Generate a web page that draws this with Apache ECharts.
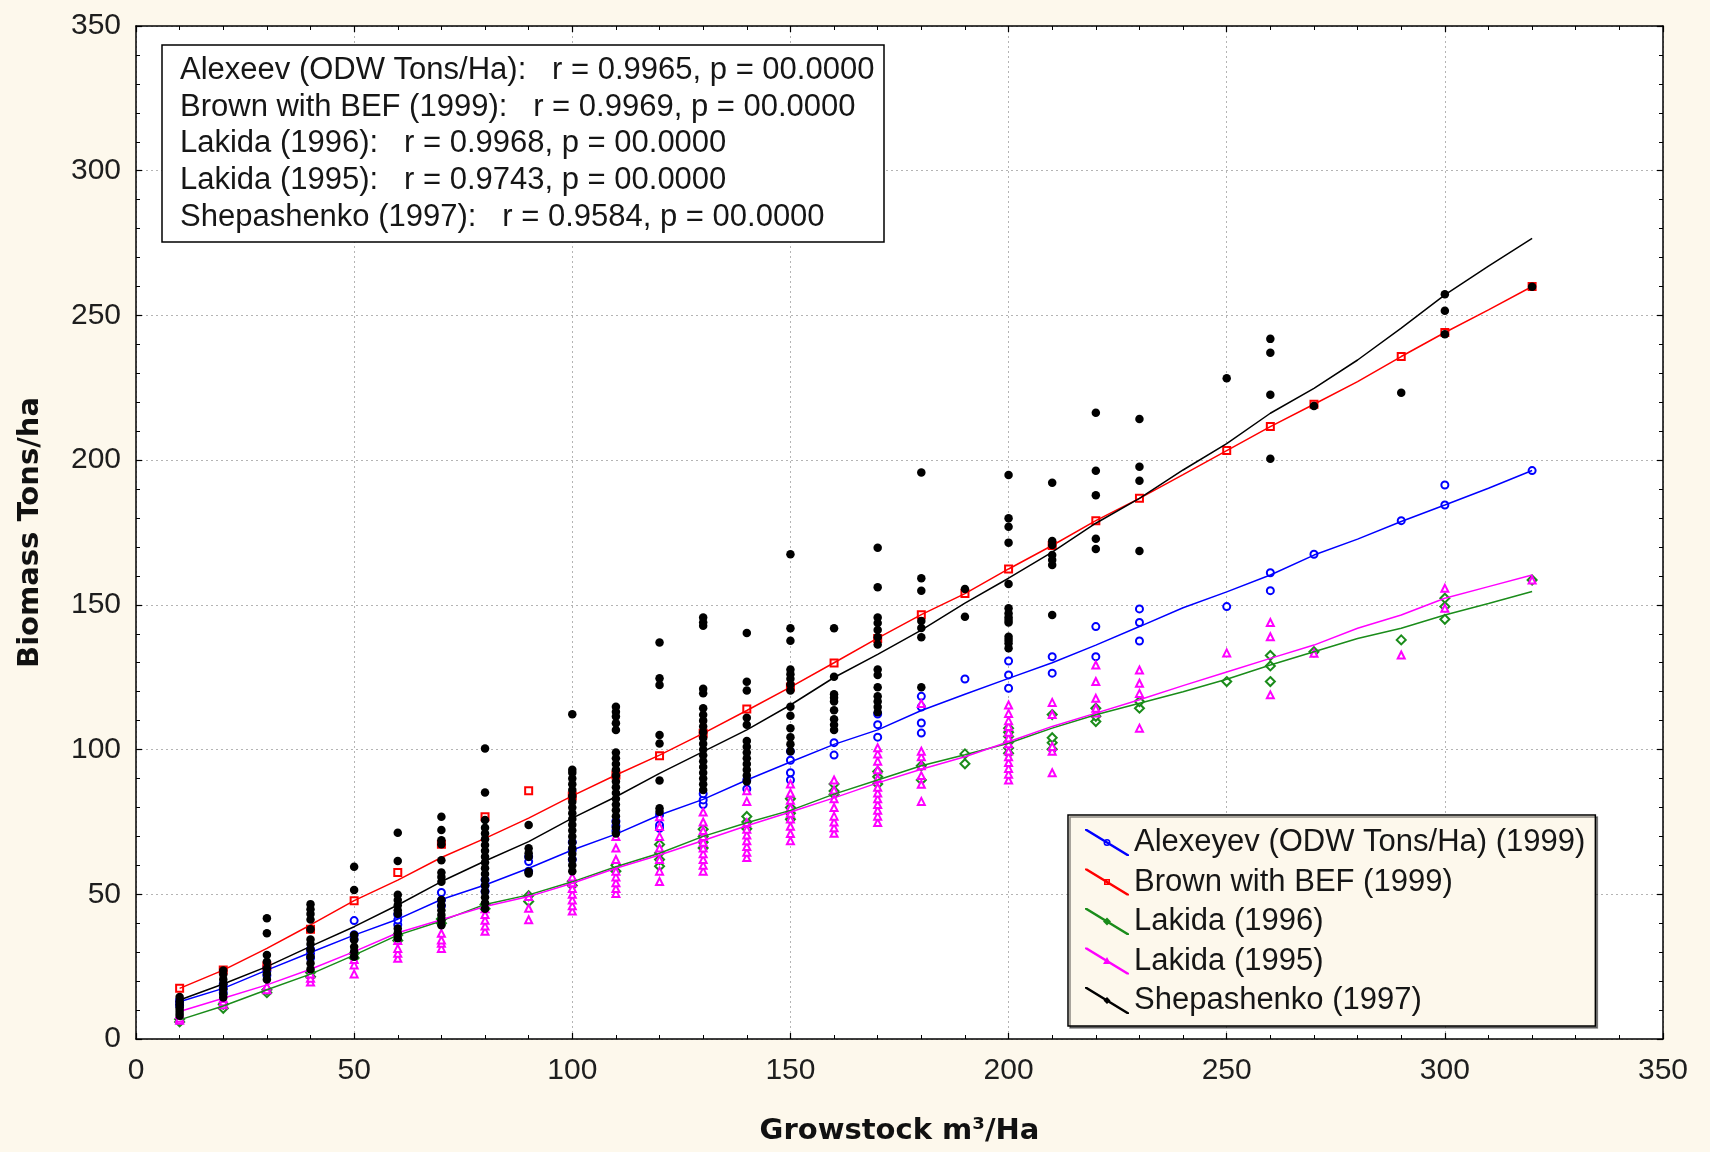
<!DOCTYPE html>
<html>
<head>
<meta charset="utf-8">
<script src="https://cdn.jsdelivr.net/npm/echarts@6.0.0/dist/echarts.min.js"></script>
<style>
  html, body { margin: 0; padding: 0; background: #fdf8ec; }
  #chart { width: 1710px; height: 1152px; }
</style>
</head>
<body>
<div id="chart"></div>
<script>
// ---------------- data ----------------
const xs = [10,20,30,40,50,60,70,80,90,100,110,120,130,140,150,160,170,180,190,200,210,220,230,240,250,260,270,280,290,300,310,320];

const seriesNames = ['Alexeyev (ODW Tons/Ha) (1999)', 'Brown with BEF (1999)', 'Lakida (1996)', 'Lakida (1995)', 'Shepashenko (1997)'];

const statLines = [
  'Alexeev (ODW Tons/Ha):   r = 0.9965, p = 00.0000',
  'Brown with BEF (1999):   r = 0.9969, p = 00.0000',
  'Lakida (1996):   r = 0.9968, p = 00.0000',
  'Lakida (1995):   r = 0.9743, p = 00.0000',
  'Shepashenko (1997):   r = 0.9584, p = 00.0000'
];

// fitted curves (one value per xs entry)
const alexFit = [12.9,17.5,23.8,29.9,35.9,41.4,48.2,53.2,59,65.3,70.8,77.4,82.8,89.5,95.7,101.8,106.8,113.5,119.1,124.6,130,136.1,142.5,149,154.5,160.3,167.2,172.7,178.8,184.5,190.3,196.4];
const brownFit = [17.5,23.8,31.3,39.4,47.8,54.9,62.7,69.3,76.3,84,91.2,98.1,105.6,113.5,121.6,130,138.5,146.6,153.9,162.4,170.5,179.1,186.8,195,203.3,211.6,219.3,227.1,235.8,244.1,251.9,260];
const lak96Fit = [6.6,11.4,17,22.4,29,35.9,40.8,46.5,49.8,54.3,59.5,64.2,70,74.7,79,84.6,89.5,94.4,98.2,102.2,107.4,112,116,120,124.3,129.2,133.8,138.4,141.9,146.5,150.5,154.6];
const lak95Fit = [9.5,14.1,18.7,24.1,30.2,36.7,41.2,45.8,49.2,53.8,59,63.6,68.6,73.7,78.4,83.3,88.5,93.2,97.5,102.7,108,112.6,117.2,122.1,126.8,131.5,136.1,141.9,146.5,152.3,156.3,160.3];
const shepFit = [13.5,19,25,32,38.8,46.3,54.4,61.5,68.2,76.3,83.7,91.8,99.3,106.8,115.4,124.9,132.9,141.3,150.6,159.2,168.2,178.2,186.8,196.6,205.7,216.2,224.8,234.6,245.6,257.1,267,276.6];

// observed points: each row = [growstock, biomass values...]
const alexPts = [
  [10,11.5,12.5,13.5],[20,16,17.5,19],[30,22,23.5,25],[40,28,29.5,31],[50,34.5,36,40.9],
  [60,39.5,41.1,43],[70,46,48,50.6],[80,51,53,55],[90,58,61.3,63],[100,62,65.3,68],
  [110,71.9,73.6,75.3],[120,72.8,73.9,77.4],[130,81,82.6,84.7],[140,86.4,89.5],
  [150,89.5,92,96.3,99.4],[160,98.1,102.4],[170,104.3,108.6,112.3],[180,105.7,109.2,114.7,118.4],
  [190,124.4],[200,121.2,125.8,130.6],[210,126.4,132.1],[220,132.1,142.5],[230,137.5,143.9,148.6],
  [250,149.4],[260,154.9,161.1],[270,167.5],[290,179.1],[300,184.5,191.4],[320,196.4]
];
const brownPts = [
  [10,17.5],[20,23.8],[30,25.2],[40,37.9],[50,47.8],[60,57.5],[70,67.3],[80,76.8],[90,85.8],
  [100,84],[110,91.2],[120,97.9],[130,105.6],[140,114],[150,121.6],[160,129.9],[170,138.4],
  [180,146.6],[190,153.9],[200,162.4],[210,170.5],[220,179.1],[230,186.8],[250,203.3],
  [260,211.6],[270,219.3],[290,235.8],[300,244.1],[320,260]
];
const lak96Pts = [
  [10,5.9,6.8],[20,10.6,12],[30,16,17],[40,21.5,23],[50,28,29.5],[60,34,35.9],[70,40,41.5],
  [80,45,46.5],[90,47.5,49.5],[100,53,54.5],[110,58,60],[120,59.7,62,64.3,67.2],
  [130,66,68,70,72.5],[140,72.6,75,76.9],[150,75.9,78,80,83],[160,84.5,85.7,88.1],
  [170,88.1,90.6,92.4],[180,89.5,94.4],[190,95.1,98.5],[200,98.7,100.5,102.5,104.5,106,107.4],
  [210,100.1,102.4,104.1,112.1],[220,109.7,111.5,114.3],[230,114.3,116.6],[250,123.5],
  [260,123.5,128.9,132.5],[270,133.8],[290,137.9],[300,145,149.4,152.3],[320,158.6]
];
const lak95Pts = [
  [10,6.5,7.2,8.5],[20,11.8,12.9,14],[30,17,18.2],[40,19.7,21,22.5],[50,22.5,25.6,27.5],
  [60,27.9,29.6,31.3,34],[70,31.3,33.1,34.2,36.5],[80,37.2,39,41,43,45],[90,41.2,45.2,49.2],
  [100,44.2,46,48,50,52,54,56],[110,50.3,52,54,56,58,62,66,70],[120,54.4,58,62,66,70,73.4,76.8],
  [130,58,60,62,64,66,68,70,72,75,78.4],[140,62.7,64.5,66.5,68.5,70.5,72.5,74.7,82.1,85.8],
  [150,68.5,71,73.5,76,78,80,82.5,85,88.1],[160,71.1,73,75,77,80,83,86,89.5],
  [170,74.8,77,79,81,83,85,87,90,93,96,98.5,100.6],[180,82.1,88,91,94.4,97.5,99.4,115.9],
  [200,89.5,91.5,93.5,95.5,97.5,99.5,102,104,106,108,110,112.5,115.4],
  [210,92,99.4,101.1,112.1,116.3],[220,112.6,114.3,117.7,123.5,129.2],[230,107.4,119.4,122.9,127.5],
  [250,133.4],[260,118.9,139,143.9],[270,133.3],[290,132.7],[300,148.8,155.7],[320,158.6]
];
const shepPts = [
  [10,8,9,10,11,12,13,14.5],
  [20,14.3,15.5,17.2,18.9,20.6,22.3,23.7],
  [30,20.6,22.5,24.4,26.7,29,36.5,41.7],
  [40,24.1,26.2,28.4,30.8,32.8,34.4,37.9,41.3,43.2,44.8,46.6],
  [50,28.4,30.2,31.9,34.2,35.9,51.5,59.5],
  [60,34.8,36.5,38.2,43.3,44.5,46.2,48,49.8,61.5,71.3],
  [70,39.3,41,42.8,44.5,46.2,48,54.3,56,57.5,61.8,67.3,68.7,72.2,76.8],
  [80,45,47,49,51,53,55,57,59,61,63,65,67,69,71,73,75.7,85.2,100.4],
  [90,57.2,57.8,63,64.2,65.9,73.9],
  [100,58,60,62,64,66,68,70,72,74,76,78,80,82,84,86,88,90,92,93,112.2],
  [110,71,73,75,77,79,81,83,85,87,89,91,93,95,97,99,106.8,109.1,111.4,113.1,114.8],
  [120,78.5,79.7,89.3,102.1,105,122.3,124.6,137],
  [130,86,88,90,92,94,96,98,100,102,104,106,108,110,112,114.3,119.5,121,142.8,144,145.6],
  [140,89,91,93,95,97,99,101,103,108.6,111,120.4,123.4,140.3],
  [150,99.4,101.8,104.3,107.4,111.7,114.8,120.4,122.5,124.5,126,127.7,137.6,141.9,167.5],
  [160,106.8,108.6,110.5,113.6,116.6,117.9,119.1,125.2,141.9],
  [170,112.9,114.7,116.6,118.4,121.5,125.8,127.7,136.3,138.8,141.3,143.7,145.6,156.1,169.7],
  [180,121.5,138.8,142,144.4,154.9,159.2,195.7],
  [190,145.9,155.5],
  [200,135,136.7,137.9,139,143.9,144.8,145.7,147.1,148.8,157.2,171.5,177,179.9,194.9],
  [210,146.5,163.8,165.5,167.2,170.7,172.1,192.2],
  [220,169.3,172.8,187.9,196.3,216.4],
  [230,168.6,192.9,197.7,214.2],
  [250,228.3],
  [260,200.5,222.6,237.1,241.9],
  [270,218.7],
  [290,223.3],
  [300,243.5,251.6,257.3],
  [320,259.9]
];

// ---------------- helpers ----------------
function flat(rows) {
  const out = [];
  rows.forEach(r => { for (let i = 1; i < r.length; i++) out.push([r[0], r[i]]); });
  return out;
}
function fit(vals) { return xs.map((x, i) => [x, vals[i]]); }

const colors = ['#0000ff', '#ff0000', '#1a8c1a', '#ff00ff', '#000000'];
const fits = [alexFit, brownFit, lak96Fit, lak95Fit, shepFit];
const pts = [alexPts, brownPts, lak96Pts, lak95Pts, shepPts];
const symbols = ['emptyCircle', 'emptyRect', 'emptyDiamond', 'emptyTriangle', 'circle'];
const symbolSizes = [7, 7, 9, 7, 8.5];

const band = 'M0,0 L2.2,0 L44,25.6 L44,27 L41.8,27 L0,1.4 Z ';
const legendIcons = [
  'path://' + band + 'M18.5,13.5 A3.5,3.5 0 1,1 25.5,13.5 A3.5,3.5 0 1,1 18.5,13.5 Z M20,13.5 A2,2 0 1,0 24,13.5 A2,2 0 1,0 20,13.5 Z',
  'path://' + band + 'M19,10.5 L25,10.5 L25,16.5 L19,16.5 Z M20.5,12 L20.5,15 L23.5,15 L23.5,12 Z',
  'path://' + band + 'M22,9.5 L26,13.5 L22,17.5 L18,13.5 Z',
  'path://' + band + 'M22,9.5 L26,16.5 L18,16.5 Z',
  'path://' + band + 'M22,10 L25.5,13.5 L22,17 L18.5,13.5 Z'
];

const series = [];
for (let i = 0; i < 5; i++) {
  series.push({
    type: 'line', name: 'fit-' + i, data: fit(fits[i]),
    symbol: 'none', showSymbol: false, silent: true,
    lineStyle: { color: colors[i], width: 1.5 },
    z: 3
  });
}
for (let i = 0; i < 5; i++) {
  series.push({
    type: 'scatter', name: seriesNames[i], data: flat(pts[i]),
    symbol: symbols[i], symbolSize: symbolSizes[i], silent: true,
    itemStyle: i === 4 ? { color: '#000', opacity: 1 } : { color: colors[i], borderWidth: 1.2, opacity: 1 },
    z: i === 4 ? 4 : 2
  });
}

const tickFont = { fontFamily: 'Liberation Sans, Arial, sans-serif', fontSize: 30, color: '#1e1e1e' };
const nameFont = { fontFamily: 'DejaVu Sans, sans-serif', fontSize: 29, fontWeight: 'bold', color: '#111' };

function valAxis(extra) {
  return Object.assign({
    type: 'value', min: 0, max: 350, interval: 50,
    axisLine: { show: true, onZero: false, lineStyle: { color: '#000', width: 1.5 } },
    axisTick: { show: true, inside: true, length: 6, lineStyle: { color: '#000', width: 1.2 } },
    minorTick: { show: true, splitNumber: 5, length: 4, lineStyle: { color: '#000', width: 1 } },
    splitLine: { show: false },
    minorSplitLine: { show: false }
  }, extra);
}

const option = {
  backgroundColor: '#fdf8ec',
  animation: false,
  title: {
    text: statLines.join('\n'),
    left: 162, top: 45,
    padding: [7, 10, 7, 18],
    backgroundColor: '#ffffff',
    borderColor: '#000', borderWidth: 1.5,
    textStyle: { fontFamily: 'Liberation Sans, Arial, sans-serif', fontSize: 31, fontWeight: 'normal', color: '#161616', lineHeight: 36.7 }
  },
  legend: {
    orient: 'vertical',
    left: 1068, top: 815,
    padding: [12, 10, 10, 17],
    itemWidth: 44, itemHeight: 27, itemGap: 8.5,
    backgroundColor: '#fdf8ec',
    borderColor: '#000', borderWidth: 1.5,
    shadowColor: 'rgba(0,0,0,0.45)', shadowOffsetX: 2, shadowOffsetY: 2,
    selectedMode: false,
    textStyle: { fontFamily: 'Liberation Sans, Arial, sans-serif', fontSize: 31, color: '#161616', lineHeight: 30 },
    data: seriesNames.map((n, i) => ({ name: n, icon: legendIcons[i], itemStyle: { color: colors[i], borderWidth: 0, opacity: 1 } }))
  },
  grid: { left: 136, right: 47, top: 26, bottom: 113, show: true, backgroundColor: '#ffffff', borderWidth: 0 },
  xAxis: [
    valAxis({
      position: 'bottom',
      name: 'Growstock m³/Ha', nameLocation: 'middle', nameGap: 78, nameTextStyle: nameFont,
      axisLabel: Object.assign({ margin: 17 }, tickFont),
      splitLine: { show: true, lineStyle: { color: '#b4b4b4', width: 1, type: [2, 3] } }
    }),
    valAxis({ position: 'top', axisLabel: { show: false } })
  ],
  yAxis: [
    valAxis({
      position: 'left',
      name: 'Biomass Tons/ha', nameLocation: 'middle', nameGap: 91, nameTextStyle: nameFont,
      axisLabel: Object.assign({ margin: 15 }, tickFont),
      splitLine: { show: true, lineStyle: { color: '#b4b4b4', width: 1, type: [2, 3] } }
    }),
    valAxis({ position: 'right', axisLabel: { show: false } })
  ],
  series: series
};

const chart = echarts.init(document.getElementById('chart'), null, { renderer: 'canvas' });
chart.setOption(option);
</script>
</body>
</html>
